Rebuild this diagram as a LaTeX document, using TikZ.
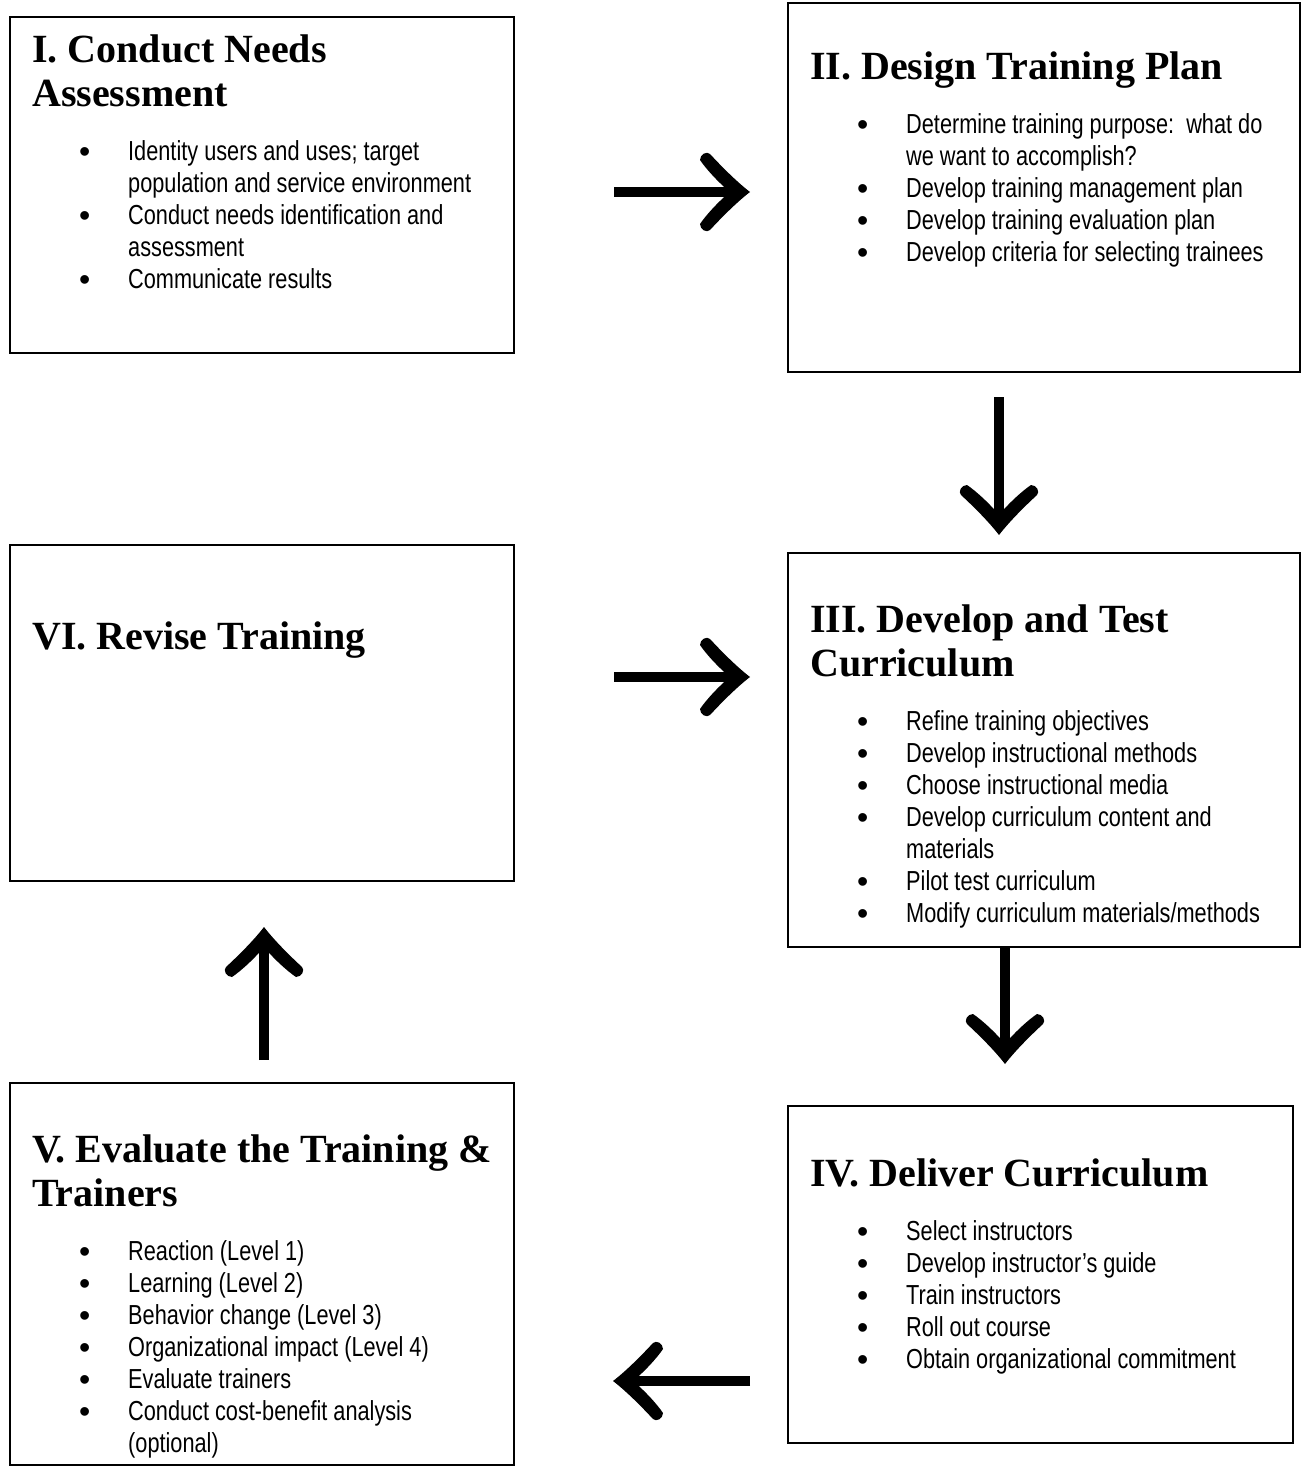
\documentclass[tikz,border=0pt]{standalone}
\usepackage{fontspec}
\setmainfont{Liberation Sans}
\newfontfamily\bodyfont{Liberation Sans}[FakeStretch=0.79]
\newfontfamily\headfont{Liberation Serif}
\newfontfamily\dotfont{Liberation Sans}

\pgfdeclarearrow{
  name = BarbHead,
  setup code = {
    \pgfarrowssettipend{0pt}
    \pgfarrowssetbackend{-50pt}
    \pgfarrowssetlineend{-18pt}
    \pgfarrowssetvisualbackend{-18pt}
    \pgfarrowshullpoint{0pt}{0pt}
    \pgfarrowsupperhullpoint{-50pt}{40pt}
  },
  drawing code = {
    \pgfpathmoveto{\pgfqpoint{0pt}{0pt}}
    \pgfpathcurveto{\pgfqpoint{-13pt}{10pt}}{\pgfqpoint{-28pt}{25pt}}{\pgfqpoint{-40pt}{38pt}}
    \pgfpathcurveto{\pgfqpoint{-43pt}{41pt}}{\pgfqpoint{-50pt}{38pt}}{\pgfqpoint{-50pt}{32pt}}
    \pgfpathcurveto{\pgfqpoint{-44pt}{23pt}}{\pgfqpoint{-31pt}{9pt}}{\pgfqpoint{-20pt}{0pt}}
    \pgfpathcurveto{\pgfqpoint{-31pt}{-9pt}}{\pgfqpoint{-44pt}{-23pt}}{\pgfqpoint{-50pt}{-32pt}}
    \pgfpathcurveto{\pgfqpoint{-50pt}{-38pt}}{\pgfqpoint{-43pt}{-41pt}}{\pgfqpoint{-40pt}{-38pt}}
    \pgfpathcurveto{\pgfqpoint{-28pt}{-25pt}}{\pgfqpoint{-13pt}{-10pt}}{\pgfqpoint{0pt}{0pt}}
    \pgfpathclose
    \pgfusepathqfill
  }
}

\newcommand\ttl[1]{{\headfont\bfseries\fontsize{40}{44}\selectfont #1\par}}
\newcommand\bitem[1]{\par\noindent\hangindent=96pt\hangafter=1\makebox[96pt][l]{\hspace{47pt}{\dotfont\fontsize{32}{32}\selectfont\raisebox{-2pt}{•}}}#1}
\newcommand\blist[1]{\vskip 22pt{\bodyfont\fontsize{27.5}{32}\selectfont #1\par}}

\tikzset{
  box/.style={draw, line width=2pt, rectangle, inner sep=0pt},
  txt/.style={anchor=base west, inner sep=0pt, text width=470pt,
    execute at begin node={\raggedright\spaceskip=0pt\xspaceskip=0pt}},
  conn/.style={line width=10pt, -BarbHead}
}

\begin{document}
\begin{tikzpicture}[x=1pt,y=1pt]
\path[fill=white, use as bounding box] (0,0) rectangle (1301,-1466);

% boxes
\node[box, minimum width=504pt, minimum height=336pt] (b1) at (262,-185) {};
\node[box, minimum width=512pt, minimum height=369pt] (b2) at (1044,-187.5) {};
\node[box, minimum width=512pt, minimum height=394pt] (b3) at (1044,-750) {};
\node[box, minimum width=505pt, minimum height=337pt] (b4) at (1040.5,-1274.5) {};
\node[box, minimum width=504pt, minimum height=382pt] (b5) at (262,-1274) {};
\node[box, minimum width=504pt, minimum height=336pt] (b6) at (262,-713) {};

% texts
\node[txt] (t1) at (32,-63) {\ttl{I. Conduct Needs\newline Assessment}
\blist{\bitem{Identity users and uses; target\newline population and service environment}
\bitem{Conduct needs identification and\newline assessment}
\bitem{Communicate results}}};

\node[txt] (t2) at (810,-80) {\ttl{II. Design Training Plan}
\blist{\bitem{Determine training purpose:\ \ what do\newline we want to accomplish?}
\bitem{Develop training management plan}
\bitem{Develop training evaluation plan}
\bitem{Develop criteria for selecting trainees}}};

\node[txt] (t3) at (810,-632) {\ttl{III. Develop and Test\newline Curriculum}
\blist{\bitem{Refine training objectives}
\bitem{Develop instructional methods}
\bitem{Choose instructional media}
\bitem{Develop curriculum content and\newline materials}
\bitem{Pilot test curriculum}
\bitem{Modify curriculum materials/methods}}};

\node[txt] (t4) at (810,-1186) {\ttl{IV. Deliver Curriculum}
\blist{\bitem{Select instructors}
\bitem{Develop instructor’s guide}
\bitem{Train instructors}
\bitem{Roll out course}
\bitem{Obtain organizational commitment}}};

\node[txt] (t5) at (32,-1162) {\ttl{V. Evaluate the Training \&\newline Trainers}
\blist{\bitem{Reaction (Level 1)}
\bitem{Learning (Level 2)}
\bitem{Behavior change (Level 3)}
\bitem{Organizational impact (Level 4)}
\bitem{Evaluate trainers}
\bitem{Conduct cost-benefit analysis\newline (optional)}}};

\node[txt] (t6) at (32,-649) {\ttl{VI. Revise Training}};

% connector end points
\coordinate (a1s) at (614,-192);
\coordinate (a1e) at (750,-192);
\coordinate (a2s) at (999,-397);
\coordinate (a2e) at (999,-535);
\coordinate (a3s) at (614,-677);
\coordinate (a3e) at (750,-677);
\coordinate (a4s) at (1005,-947);
\coordinate (a4e) at (1005,-1064);
\coordinate (a5s) at (750,-1381);
\coordinate (a5e) at (613,-1381);
\coordinate (a6s) at (264,-1060);
\coordinate (a6e) at (264,-927);

\draw[conn] (a1s) -- (a1e);
\draw[conn] (a2s) -- (a2e);
\draw[conn] (a3s) -- (a3e);
\draw[conn] (a4s) -- (a4e);
\draw[conn] (a5s) -- (a5e);
\draw[conn] (a6s) -- (a6e);
\end{tikzpicture}
\end{document}
